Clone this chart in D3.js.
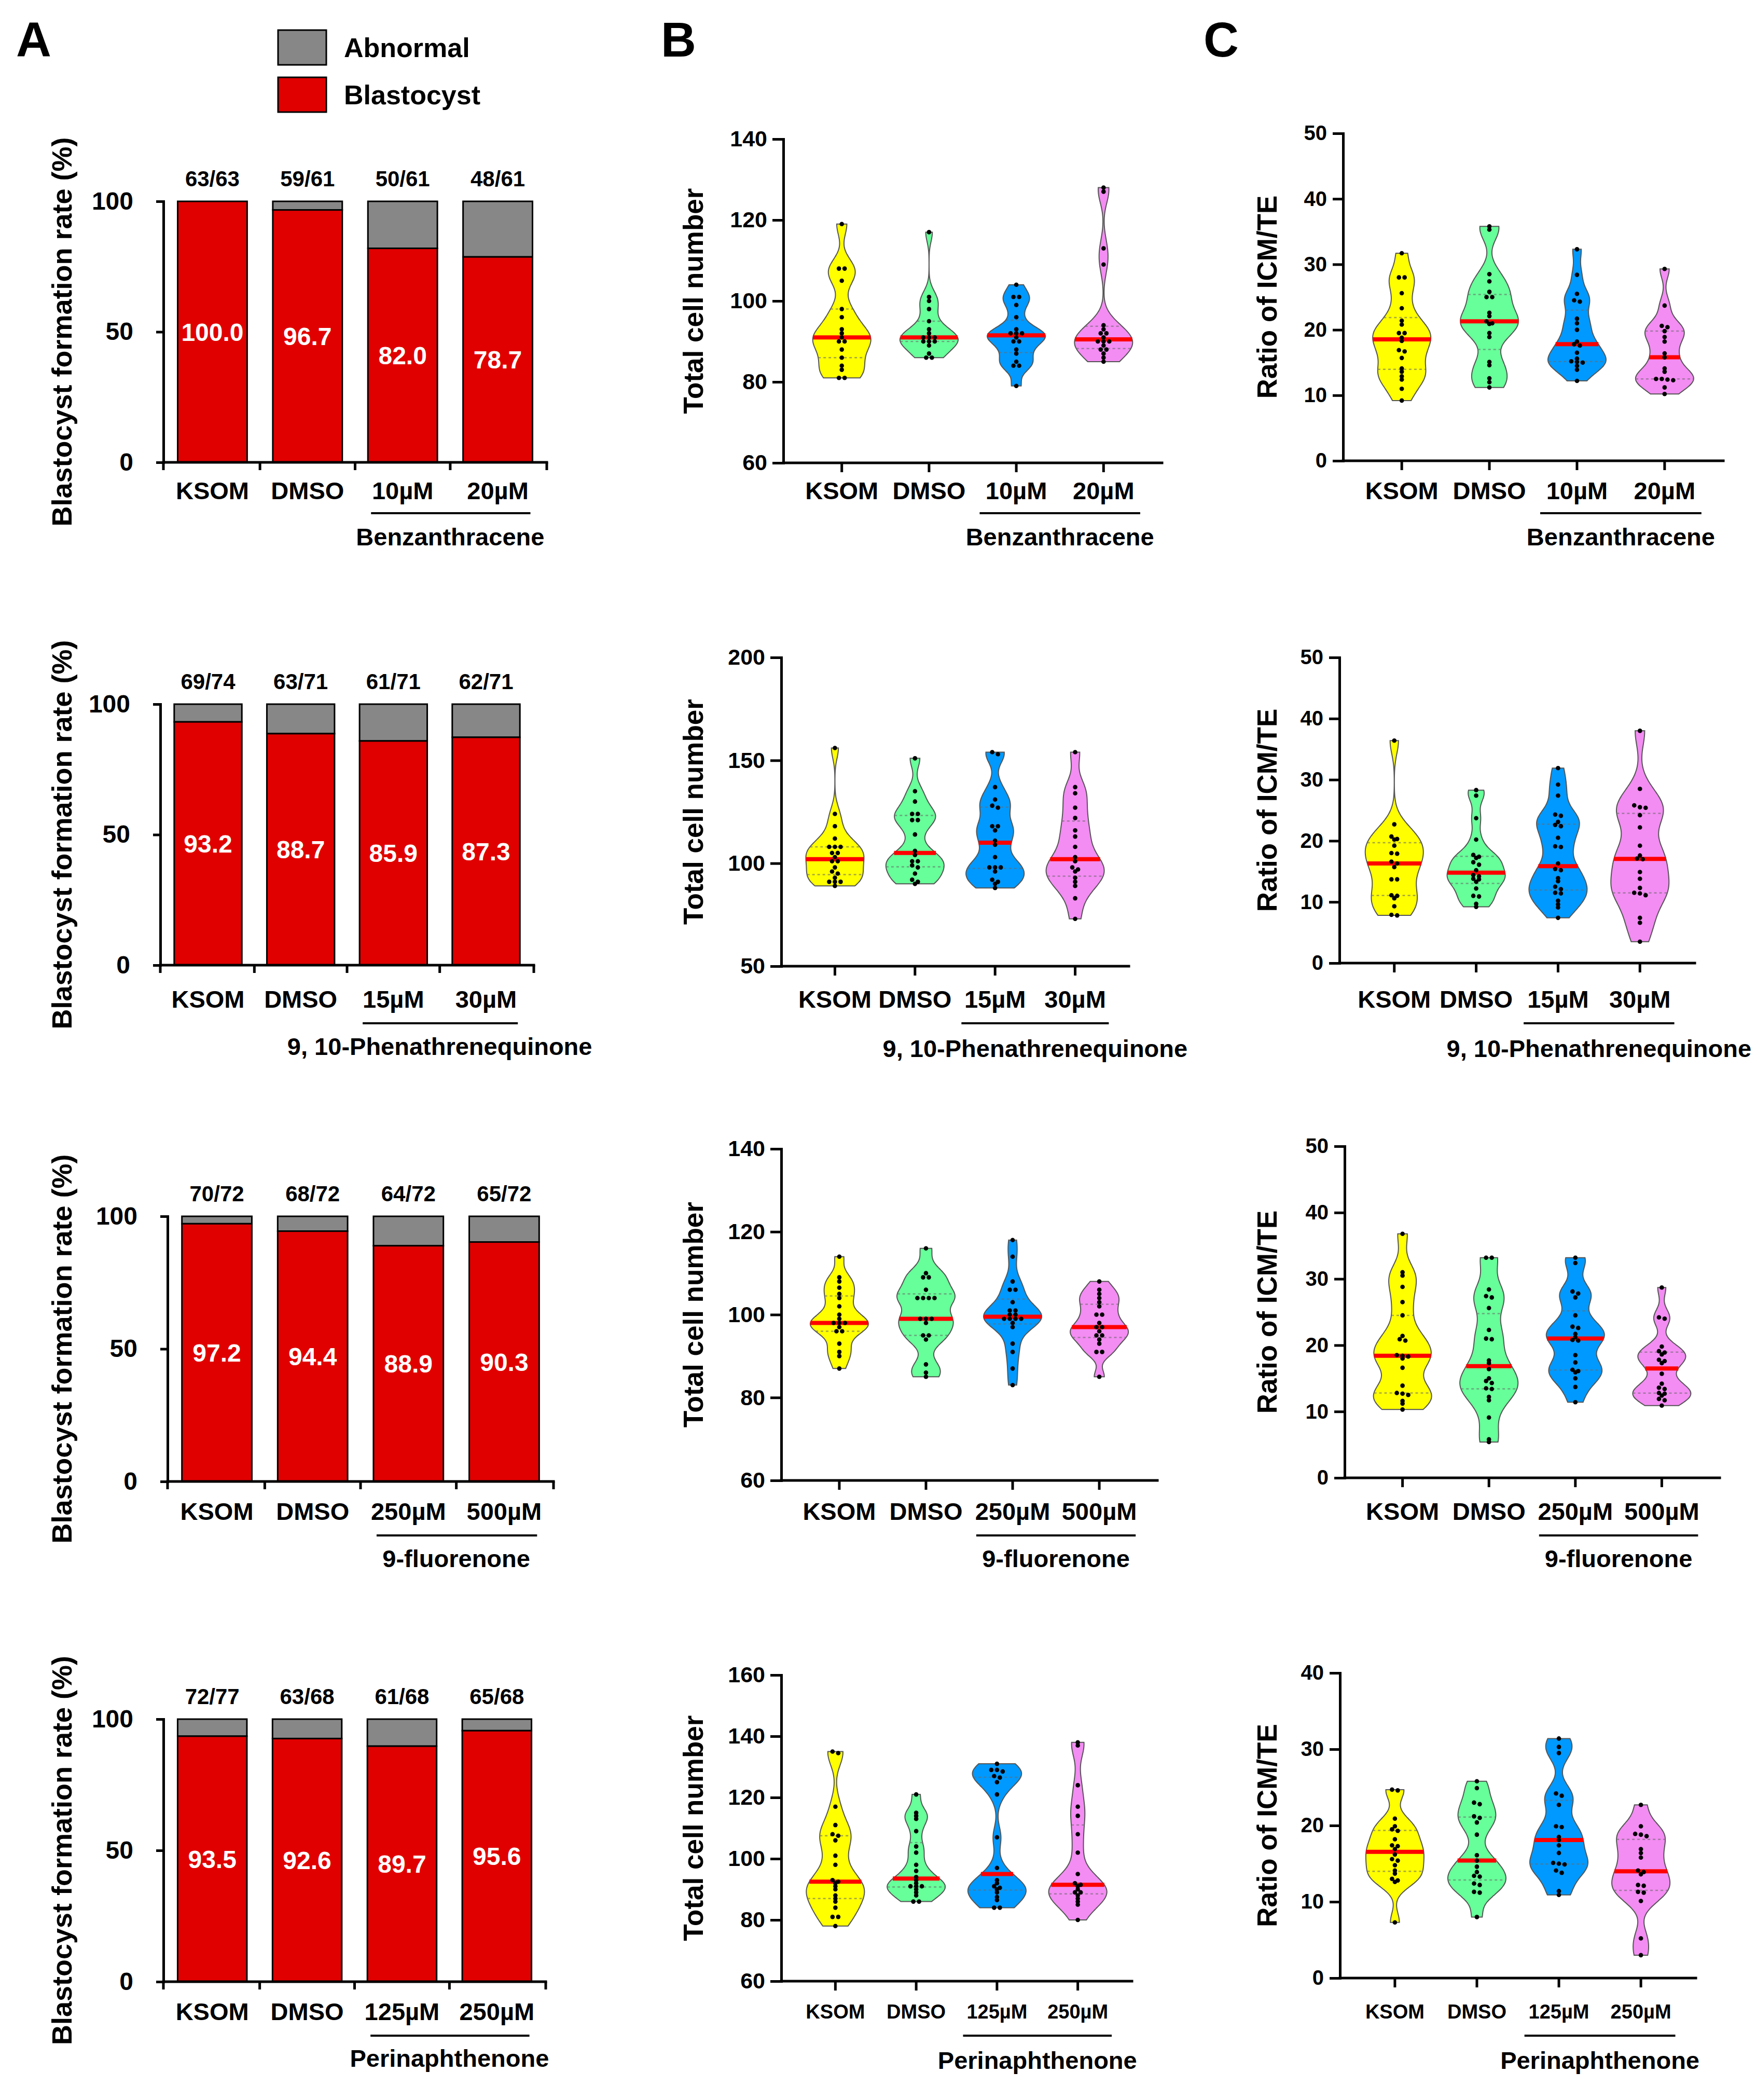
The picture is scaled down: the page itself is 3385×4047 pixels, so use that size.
<!DOCTYPE html>
<html>
<head>
<meta charset="utf-8">
<script src="https://cdn.jsdelivr.net/npm/d3@7"></script>
<style>
  body { margin: 0; background: #fff; }
  svg { display: block; }
</style>
</head>
<body>
<svg id="fig" width="3385" height="4047"></svg>
<script>
"use strict";

// === Data ===
const rowCategories = [
  ["KSOM", "DMSO", "10µM", "20µM"],
  ["KSOM", "DMSO", "15µM", "30µM"],
  ["KSOM", "DMSO", "250µM", "500µM"],
  ["KSOM", "DMSO", "125µM", "250µM"]
];
const compounds = ["Benzanthracene", "9, 10-Phenathrenequinone", "9-fluorenone", "Perinaphthenone"];
const legendLabels = ["Abnormal", "Blastocyst"];

// blastocyst formation rate (%) per row
const blastocystRates = [
  [100.0, 96.7, 82.0, 78.7],
  [93.2, 88.7, 85.9, 87.3],
  [97.2, 94.4, 88.9, 90.3],
  [93.5, 92.6, 89.7, 95.6]
];
const embryoCounts = [
  ["63/63", "59/61", "50/61", "48/61"],
  ["69/74", "63/71", "61/71", "62/71"],
  ["70/72", "68/72", "64/72", "65/72"],
  ["72/77", "63/68", "61/68", "65/68"]
];
const rateTicks = [0, 50, 100];

const cellTicks = [
  [60, 80, 100, 120, 140],
  [50, 100, 150, 200],
  [60, 80, 100, 120, 140],
  [60, 80, 100, 120, 140, 160]
];
const ratioTicks = [
  [0, 10, 20, 30, 40, 50],
  [0, 10, 20, 30, 40, 50],
  [0, 10, 20, 30, 40, 50],
  [0, 10, 20, 30, 40]
];

// total cell number, one array per group
const cellsBenz = [
  [119, 108, 108, 105, 98, 96, 93, 92, 91, 90, 90, 88, 86, 84, 83, 81, 81],
  [117, 101, 100, 98, 95, 93, 92, 91, 91, 91, 90, 90, 90, 89, 87, 86, 86],
  [104, 101, 101, 99, 96, 93, 92, 92, 92, 91, 90, 90, 88, 87, 85, 84, 84, 79],
  [128, 127, 113, 109, 94, 93, 92, 92, 91, 90, 90, 90, 89, 88, 88, 87, 86, 85]
];
const cellsPhen = [
  [156, 124, 118, 112, 108, 108, 108, 105, 105, 103, 101, 101, 98, 96, 95, 93, 91, 91, 91, 89],
  [151, 135, 130, 124, 124, 121, 121, 114, 106, 104, 101, 101, 99, 98, 95, 92, 91, 90],
  [154, 153, 137, 131, 128, 127, 118, 118, 116, 111, 109, 103, 98, 98, 98, 96, 92, 91, 90, 88],
  [154, 137, 134, 127, 122, 116, 113, 108, 103, 101, 98, 97, 96, 93, 91, 89, 83, 73]
];
const cellsFluo = [
  [114, 109, 108, 106.5, 105, 104, 102, 100, 99, 98, 98, 98, 97, 96, 96, 93, 91, 90, 87],
  [116, 110, 109, 109, 106, 104, 104, 104, 104, 99, 99, 99, 98, 95, 95, 94, 88, 86, 85],
  [118, 114, 108, 106, 106, 103, 101, 101, 100, 100, 99, 99, 99, 99, 98, 97, 93, 91, 87, 83],
  [108, 106, 105, 104, 103, 102, 100, 100, 98, 97, 97, 96, 95, 95, 94, 93, 91, 91, 85]
];
const cellsPeri = [
  [135, 134.5, 117, 111, 108, 107.5, 106, 101, 98, 93, 92.5, 92, 91, 90, 88, 87, 86, 84, 81, 81, 78],
  [121, 115, 114, 113, 109, 104, 102, 98, 96, 94, 93, 92, 91, 91, 91, 90, 89, 88, 86, 86],
  [131, 129, 129, 128.5, 127, 126.5, 125, 121, 107, 97, 93, 92, 91, 90.5, 90, 89, 87.5, 86.5, 84, 84],
  [138, 137, 124, 117, 114, 108, 102, 95, 92, 91.5, 91, 90, 89, 89, 88, 87, 86, 85, 80]
];

// ratio of ICM/TE, one array per group
const ratioBenz = [
  [31.7, 28, 28, 25.6, 23.3, 21.4, 20.8, 19.5, 19.5, 18.8, 18.3, 16.9, 16.7, 15.7, 14.1, 13.6, 12.9, 12.4, 11, 9.2],
  [35.8, 35.3, 28.5, 27.4, 25.8, 25, 25, 22.6, 22.1, 21.3, 21, 20.9, 19.5, 18.9, 15.1, 14.6, 12.6, 12, 11.2],
  [32.3, 28.4, 25.5, 24.5, 24.3, 21.7, 21, 20, 18.2, 17.8, 17.6, 16.5, 15.6, 15.2, 15.1, 15, 14.5, 13.9, 12.2],
  [29.3, 23.7, 20.6, 20.4, 19.8, 18.9, 18.2, 16.4, 15.8, 14.1, 13.6, 12.5, 12.5, 12.4, 12.3, 11.2, 10.2]
];
const ratioPhen = [
  [36.4, 22.7, 20.7, 20.3, 20.2, 19.2, 18, 17.9, 16.6, 16.3, 15.7, 13.7, 13.7, 11.1, 11, 10.6, 9.3, 7.9, 7.8],
  [28.3, 27.4, 23.7, 20.2, 17.7, 17.4, 17.2, 16.5, 16.1, 15.2, 14.4, 14.2, 13.8, 13.7, 13.3, 12.2, 11, 10.9, 9.7, 9.2],
  [31.9, 29.2, 27.4, 24.3, 24.1, 23.1, 22.6, 22.4, 20.5, 19.1, 19, 16.3, 15.4, 15.2, 13.9, 13.4, 12.5, 12.1, 11.5, 11.4, 10.2, 9.6, 9.1, 7.4],
  [38, 28.5, 25.8, 25.5, 25.4, 24.2, 22.2, 19.2, 17.6, 17.1, 17, 14.9, 13.8, 12.3, 11.5, 11.4, 11.1, 7.4, 6.6, 3.5]
];
const ratioFluo = [
  [36.8, 31, 30.5, 28.8, 26.5, 24.5, 21.4, 20.9, 20.7, 18.5, 18.4, 18.3, 18, 16.6, 13.9, 12.8, 12.7, 12.5, 11.6, 11.2, 10.3],
  [33.2, 33.2, 28.4, 27.4, 27.2, 25.6, 22.3, 21, 20.9, 17.7, 17.3, 16.4, 15, 14.6, 14.3, 13.5, 13.4, 12.2, 11.7, 9.1, 5.8, 5.4],
  [33.2, 32.4, 28.1, 27.8, 27.2, 24.5, 22.8, 22.6, 21.7, 21.2, 20.8, 20.7, 18.5, 17.4, 16.3, 16.1, 15.9, 15, 13.7, 11.4],
  [28.7, 24.2, 24, 19.8, 19.1, 18.9, 18.6, 17.8, 17.6, 17.3, 15.7, 14.2, 13.6, 13.4, 12.8, 12.7, 12.4, 11.9, 11.7, 10.9]
];
const ratioPeri = [
  [24.7, 24.6, 20.9, 19.9, 19.5, 19.3, 18.2, 17.4, 17.3, 16.9, 16.2, 15.6, 15.4, 14.8, 14.1, 13.7, 13, 12.8, 12.6, 7.3],
  [25.8, 24.9, 23, 22.8, 21.2, 21, 20.4, 18.8, 16.1, 15.4, 14.6, 13.9, 13.4, 13.3, 12.4, 12.2, 11.3, 11.2, 8],
  [31.4, 30.3, 29.5, 24.2, 23.9, 22.7, 19.9, 19.8, 18.5, 18.1, 17.4, 16.4, 15.1, 15, 14.9, 14.1, 13.8, 11.4, 10.9],
  [22.7, 19.9, 18.9, 18.8, 18.6, 16.9, 16.4, 15.8, 14.1, 13.9, 13.6, 12.2, 12.1, 11.3, 11.2, 10.1, 5.2, 3]
];
const cellGroups = [cellsBenz, cellsPhen, cellsFluo, cellsPeri];
const ratioGroups = [ratioBenz, ratioPhen, ratioFluo, ratioPeri];

// === Layout & style ===
const FONT = "'Liberation Sans', Arial, sans-serif";
const RED = "#e00000";
const GRAY = "#878787";
const VIOLIN_COLORS = ["#ffff00", "#66ff99", "#0099ff", "#f38cf3"];
const HALF_W = 56;

const rateLayout = [
  { x0: 315, x1: 1054, top: 388, base: 891, labelY: 945, lineY: 989, nameY: 1034 },
  { x0: 309, x1: 1029, top: 1357, base: 1860, labelY: 1925, lineY: 1972, nameY: 2016 },
  { x0: 323, x1: 1067, top: 2344, base: 2855, labelY: 2912, lineY: 2959, nameY: 3003 },
  { x0: 315, x1: 1052, top: 3313, base: 3819, labelY: 3876, lineY: 3923, nameY: 3966 }
];
const cellLayout = [
  { x0: 1510, x1: 2240, top: 268, base: 892, labelY: 945, lineY: 989, nameY: 1034, labelSize: 47 },
  { x0: 1506, x1: 2176, top: 1267, base: 1862, labelY: 1925, lineY: 1972, nameY: 2020, labelSize: 47 },
  { x0: 1506, x1: 2231, top: 2214, base: 2853, labelY: 2912, lineY: 2959, nameY: 3003, labelSize: 47 },
  { x0: 1506, x1: 2182, top: 3228, base: 3818, labelY: 3876, lineY: 3923, nameY: 3970, labelSize: 38 }
];
const ratioLayout = [
  { x0: 2589, x1: 3322, top: 257, base: 888, labelY: 945, lineY: 989, nameY: 1034, labelSize: 47 },
  { x0: 2582, x1: 3267, top: 1267, base: 1856, labelY: 1925, lineY: 1972, nameY: 2020, labelSize: 47 },
  { x0: 2592, x1: 3315, top: 2209, base: 2848, labelY: 2912, lineY: 2959, nameY: 3003, labelSize: 47 },
  { x0: 2583, x1: 3269, top: 3224, base: 3812, labelY: 3876, lineY: 3923, nameY: 3970, labelSize: 38 }
];
const cellAxisStyle = { tickSize: 21, pad: 10, font: 43, titleX: 1336 };
const ratioAxisStyle = { tickSize: 20, pad: 11, font: 40, titleX: 2442 };

const svg = d3.select("#fig")
  .attr("font-family", FONT)
  .attr("font-weight", "bold");

function addText(g, x, y, str, size, anchor) {
  return g.append("text")
    .attr("x", x).attr("y", y)
    .attr("font-size", size)
    .attr("text-anchor", anchor || "start")
    .attr("fill", "#000")
    .text(str);
}

// baseline for a text whose cap height should be centred on cy
function mid(cy, size) { return cy + 0.36 * size; }

function styleAxis(sel, size) {
  sel.attr("font-family", FONT).attr("font-size", size).attr("font-weight", "bold");
  sel.select(".domain").attr("stroke", "#000").attr("stroke-width", 5).attr("stroke-linecap", "square");
  sel.selectAll(".tick line").attr("stroke", "#000").attr("stroke-width", 5);
  sel.selectAll(".tick text").attr("fill", "#000");
}

function yTitle(g, x, cy, str, size) {
  g.append("text")
    .attr("transform", `translate(${x},${cy}) rotate(-90)`)
    .attr("text-anchor", "middle")
    .attr("dy", "0.36em")
    .attr("font-size", size)
    .attr("fill", "#000")
    .text(str);
}

// === Panel letters and legend ===
addText(svg, 31, 109, "A", 94);
addText(svg, 1274, 109, "B", 94);
addText(svg, 2320, 109, "C", 94);

const legend = svg.append("g");
legend.selectAll("rect").data(legendLabels).join("rect")
  .attr("x", 536).attr("y", (d, i) => 58 + i * 91)
  .attr("width", 93).attr("height", 67)
  .attr("fill", (d, i) => i === 0 ? GRAY : RED)
  .attr("stroke", "#000").attr("stroke-width", 3);
legend.selectAll("text").data(legendLabels).join("text")
  .attr("x", 663).attr("y", (d, i) => mid(91 + i * 91, 52))
  .attr("font-size", 52).attr("fill", "#000")
  .text(d => d);

// === Panel A: stacked bars ===
function drawRatePanel(row) {
  const L = rateLayout[row];
  const cats = rowCategories[row];
  const g = svg.append("g");
  const x = d3.scaleBand().domain(cats).range([L.x0, L.x1]).paddingInner(0.27).paddingOuter(0.15);
  const y = d3.scaleLinear().domain([0, 100]).range([L.base, L.top]);
  const rows = cats.map((c, i) => ({ cat: c, rate: blastocystRates[row][i], count: embryoCounts[row][i] }));

  g.selectAll("rect.abn").data(rows).join("rect").attr("class", "abn")
    .attr("x", d => x(d.cat)).attr("width", x.bandwidth())
    .attr("y", y(100)).attr("height", d => y(d.rate) - y(100))
    .attr("fill", GRAY).attr("stroke", "#000").attr("stroke-width", 3);
  g.selectAll("rect.bla").data(rows).join("rect").attr("class", "bla")
    .attr("x", d => x(d.cat)).attr("width", x.bandwidth())
    .attr("y", d => y(d.rate)).attr("height", d => y(0) - y(d.rate))
    .attr("fill", RED).attr("stroke", "#000").attr("stroke-width", 3);

  g.selectAll("text.val").data(rows).join("text").attr("class", "val")
    .attr("x", d => x(d.cat) + x.bandwidth() / 2)
    .attr("y", d => mid(y(d.rate / 2), 48))
    .attr("text-anchor", "middle").attr("font-size", 48).attr("fill", "#fff")
    .text(d => d.rate.toFixed(1));
  g.selectAll("text.cnt").data(rows).join("text").attr("class", "cnt")
    .attr("x", d => x(d.cat) + x.bandwidth() / 2)
    .attr("y", mid(y(100) - 44, 42))
    .attr("text-anchor", "middle").attr("font-size", 42).attr("fill", "#000")
    .text(d => d.count);

  g.append("g").attr("transform", `translate(${L.x0},0)`)
    .call(d3.axisLeft(y).tickValues(rateTicks).tickSize(14).tickSizeOuter(0).tickPadding(44))
    .call(styleAxis, 48);

  // x axis with ticks on the band boundaries
  const gap = x.step() * x.paddingInner();
  const bounds = [L.x0, ...cats.slice(1).map(c => x(c) - gap / 2), L.x1];
  g.append("line").attr("x1", L.x0).attr("x2", L.x1).attr("y1", L.base).attr("y2", L.base)
    .attr("stroke", "#000").attr("stroke-width", 5).attr("stroke-linecap", "square");
  g.selectAll("line.bt").data(bounds).join("line").attr("class", "bt")
    .attr("x1", d => d).attr("x2", d => d).attr("y1", L.base).attr("y2", L.base + 15)
    .attr("stroke", "#000").attr("stroke-width", 5);

  g.selectAll("text.cat").data(cats).join("text").attr("class", "cat")
    .attr("x", d => x(d) + x.bandwidth() / 2).attr("y", mid(L.labelY, 47))
    .attr("text-anchor", "middle").attr("font-size", 47).attr("fill", "#000")
    .text(d => d);

  const lx0 = x(cats[2]) + 6, lx1 = x(cats[3]) + x.bandwidth() - 4;
  g.append("line").attr("x1", lx0).attr("x2", lx1).attr("y1", L.lineY).attr("y2", L.lineY)
    .attr("stroke", "#000").attr("stroke-width", 4);
  addText(g, (x(cats[2]) + x(cats[3]) + x.bandwidth()) / 2, mid(L.nameY, 47), compounds[row], 47, "middle");

  yTitle(g, 119, (L.top + L.base) / 2, "Blastocyst formation rate (%)", 54);
}

// === Panels B and C: violins ===
function swarm(sorted, y, cx) {
  const pts = sorted.map(v => ({ v, py: y(v) })).sort((a, b) => a.py - b.py);
  const out = [];
  let grp = [];
  const flush = () => {
    grp.forEach((p, i) => out.push({ x: cx + (i - (grp.length - 1) / 2) * 11, y: p.py }));
    grp = [];
  };
  pts.forEach(p => {
    if (grp.length && p.py - grp[0].py > 5) flush();
    grp.push(p);
  });
  flush();
  return out;
}

function drawViolinPanel(L, cats, groups, ticks, title, compound, S) {
  const g = svg.append("g");
  const y = d3.scaleLinear().domain(d3.extent(ticks)).range([L.base, L.top]);
  const x = d3.scalePoint().domain(cats).range([L.x0, L.x1]).padding(0.67);

  groups.forEach((vals, i) => {
    const cx = x(cats[i]);
    const s = vals.slice().sort(d3.ascending);
    const lo = s[0], hi = s[s.length - 1];
    const bw = 0.075 * (hi - lo);
    const dens = v => d3.sum(s, xi => Math.exp(-0.5 * ((v - xi) / bw) ** 2));
    const prof = d3.range(0, 81).map(k => {
      const v = lo + (hi - lo) * k / 80;
      return { v, d: dens(v) };
    });
    const dmax = d3.max(prof, p => p.d);
    const hw = v => dens(v) / dmax * HALF_W;

    const area = d3.area().curve(d3.curveCatmullRom)
      .y(p => y(p.v))
      .x0(p => cx - p.d / dmax * HALF_W)
      .x1(p => cx + p.d / dmax * HALF_W);
    g.append("path").datum(prof).attr("d", area)
      .attr("fill", VIOLIN_COLORS[i]).attr("stroke", "#555").attr("stroke-width", 2);

    [0.25, 0.75].forEach(q => {
      const v = d3.quantileSorted(s, q);
      g.append("line")
        .attr("x1", cx - hw(v)).attr("x2", cx + hw(v)).attr("y1", y(v)).attr("y2", y(v))
        .attr("stroke", "#6a6a6a").attr("stroke-opacity", 0.6)
        .attr("stroke-width", 2.5).attr("stroke-dasharray", "5,5");
    });
    const m = d3.median(s);
    g.append("line")
      .attr("x1", cx - hw(m)).attr("x2", cx + hw(m)).attr("y1", y(m)).attr("y2", y(m))
      .attr("stroke", "#ff0000").attr("stroke-width", 8);

    g.selectAll(null).data(swarm(s, y, cx)).join("circle")
      .attr("cx", d => d.x).attr("cy", d => d.y).attr("r", 4.3).attr("fill", "#000");
  });

  g.append("g").attr("transform", `translate(${L.x0},0)`)
    .call(d3.axisLeft(y).tickValues(ticks).tickSize(S.tickSize).tickSizeOuter(0).tickPadding(S.pad))
    .call(styleAxis, S.font);

  g.append("line").attr("x1", L.x0).attr("x2", L.x1).attr("y1", L.base).attr("y2", L.base)
    .attr("stroke", "#000").attr("stroke-width", 5).attr("stroke-linecap", "square");
  g.selectAll("line.ct").data(cats).join("line").attr("class", "ct")
    .attr("x1", d => x(d)).attr("x2", d => x(d)).attr("y1", L.base).attr("y2", L.base + 18)
    .attr("stroke", "#000").attr("stroke-width", 5);

  g.selectAll("text.cat").data(cats).join("text").attr("class", "cat")
    .attr("x", d => x(d)).attr("y", mid(L.labelY, L.labelSize))
    .attr("text-anchor", "middle").attr("font-size", L.labelSize).attr("fill", "#000")
    .text(d => d);

  const step = x.step();
  g.append("line")
    .attr("x1", x(cats[2]) - 0.42 * step).attr("x2", x(cats[3]) + 0.42 * step)
    .attr("y1", L.lineY).attr("y2", L.lineY)
    .attr("stroke", "#000").attr("stroke-width", 4);
  addText(g, (x(cats[2]) + x(cats[3])) / 2, mid(L.nameY, 47), compound, 47, "middle");

  yTitle(g, S.titleX, (L.top + L.base) / 2, title, 53);
}

for (let row = 0; row < 4; row++) {
  drawRatePanel(row);
  drawViolinPanel(cellLayout[row], rowCategories[row], cellGroups[row], cellTicks[row],
    "Total cell number", compounds[row], cellAxisStyle);
  drawViolinPanel(ratioLayout[row], rowCategories[row], ratioGroups[row], ratioTicks[row],
    "Ratio of ICM/TE", compounds[row], ratioAxisStyle);
}
</script>
</body>
</html>
